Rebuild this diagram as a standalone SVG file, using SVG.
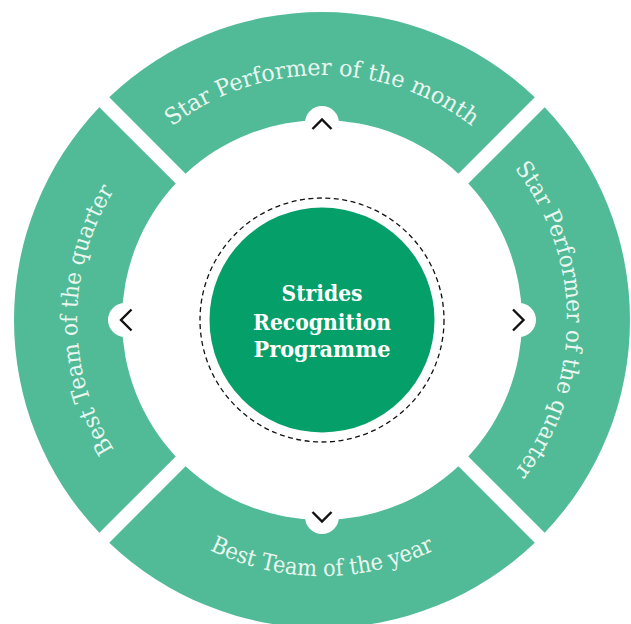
<svg xmlns="http://www.w3.org/2000/svg" width="631" height="624" viewBox="0 0 631 624">
  <style>
    .seg { fill: #50bb96; }
    .ring-text { font-family: "DejaVu Serif", "Liberation Serif", serif; font-size: 23px; fill: #eaf6f0; }
    .center-text { font-family: "DejaVu Serif", "Liberation Serif", serif; font-size: 23px; font-weight: bold; fill: #ffffff; text-anchor: middle; }
    .bump { fill: #ffffff; }
    .chev { fill: none; stroke: #111111; stroke-width: 2.4; stroke-linecap: butt; stroke-linejoin: miter; }
  </style>
  <defs>
    <path id="p-top" d="M 77 320 A 245 245 0 0 1 567 320"/>
    <path id="p-right" d="M 322 75 A 245 245 0 0 1 322 565"/>
    <path id="p-left" d="M 322 565 A 245 245 0 0 1 322 75"/>
    <path id="p-bottom" d="M 66 320 A 256 256 0 0 0 578 320"/>
  </defs>
  <rect width="631" height="624" fill="#ffffff"/>

  <g id="seg-month">
    <path class="seg" d="M 109.22 97.32 A 308 308 0 0 1 534.78 97.32 L 458.39 173.71 A 200 200 0 0 0 185.61 173.71 Z"/>
    <text class="ring-text"><textPath href="#p-top" startOffset="50%" text-anchor="middle" textLength="323" lengthAdjust="spacingAndGlyphs">Star Performer of the month</textPath></text>
  </g>
  <g id="seg-quarter">
    <path class="seg" d="M 544.68 107.22 A 308 308 0 0 1 544.68 532.78 L 468.29 456.39 A 200 200 0 0 0 468.29 183.61 Z"/>
    <text class="ring-text"><textPath href="#p-right" startOffset="50%" text-anchor="middle" textLength="327" lengthAdjust="spacingAndGlyphs">Star Performer of the quarter</textPath></text>
  </g>
  <g id="seg-year">
    <path class="seg" d="M 534.78 542.68 A 308 308 0 0 1 109.22 542.68 L 185.61 466.29 A 200 200 0 0 0 458.39 466.29 Z"/>
    <text class="ring-text"><textPath href="#p-bottom" startOffset="50%" text-anchor="middle" textLength="233" lengthAdjust="spacingAndGlyphs">Best Team of the year</textPath></text>
  </g>
  <g id="seg-team-quarter">
    <path class="seg" d="M 99.32 532.78 A 308 308 0 0 1 99.32 107.22 L 175.71 183.61 A 200 200 0 0 0 175.71 456.39 Z"/>
    <text class="ring-text"><textPath href="#p-left" startOffset="50%" text-anchor="middle" textLength="273" lengthAdjust="spacingAndGlyphs">Best Team of the quarter</textPath></text>
  </g>

  <g id="center">
    <circle cx="322" cy="320" r="122" fill="none" stroke="#111111" stroke-width="1.3" stroke-dasharray="5 3.5"/>
    <circle cx="322" cy="320" r="112.5" fill="#059f69"/>
    <text class="center-text" x="322" y="301" textLength="81" lengthAdjust="spacingAndGlyphs">Strides</text>
    <text class="center-text" x="322" y="330" textLength="138" lengthAdjust="spacingAndGlyphs">Recognition</text>
    <text class="center-text" x="322" y="357" textLength="137" lengthAdjust="spacingAndGlyphs">Programme</text>
  </g>

  <g id="connectors">
    <circle class="bump" cx="322" cy="123" r="17"/>
    <circle class="bump" cx="519" cy="320" r="17"/>
    <circle class="bump" cx="322" cy="517" r="17"/>
    <circle class="bump" cx="125" cy="320" r="17"/>
    <polyline class="chev" points="312.5,129 322,119.5 331.5,129"/>
    <polyline class="chev" points="513,309.5 523.5,320 513,330.5"/>
    <polyline class="chev" points="312.5,512 322,521.5 331.5,512"/>
    <polyline class="chev" points="131.5,309.5 121,320 131.5,330.5"/>
  </g>
</svg>
